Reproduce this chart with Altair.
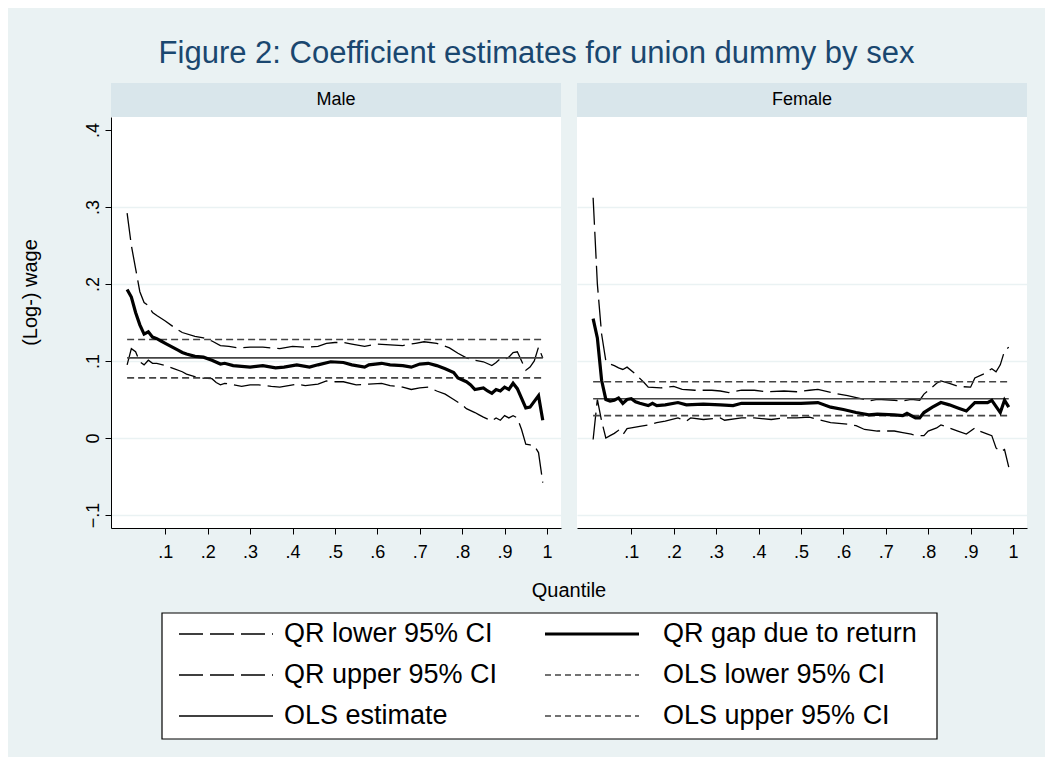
import altair as alt
import pandas as pd

# ---------------- data ----------------
TITLE = "Figure 2: Coefficient estimates for union dummy by sex"
PANELS = ["Male", "Female"]
X_TITLE = "Quantile"
Y_TITLE = "(Log-) wage"
SERIES = ["QR lower 95% CI", "QR upper 95% CI", "OLS estimate",
          "QR gap due to return", "OLS lower 95% CI", "OLS upper 95% CI"]
X_TICKS = [0.1, 0.2, 0.3, 0.4, 0.5, 0.6, 0.7, 0.8, 0.9, 1.0]
Y_TICKS = [-0.1, 0.0, 0.1, 0.2, 0.3, 0.4]

OLS_Q = [0.01, 0.99]
MALE_OLS = [0.078, 0.104, 0.128]      # lower, estimate, upper
FEMALE_OLS = [0.029, 0.051, 0.073]

MALE_EST_Q = [0.01, 0.02, 0.03, 0.04, 0.05, 0.06, 0.07, 0.08, 0.09, 0.10, 0.11, 0.12, 0.13, 0.14,
              0.15, 0.17, 0.19, 0.21, 0.23, 0.24, 0.26, 0.28, 0.30, 0.33, 0.36, 0.38, 0.41, 0.44,
              0.46, 0.49, 0.52, 0.54, 0.57, 0.58, 0.61, 0.63, 0.66, 0.68, 0.70, 0.72, 0.74, 0.76,
              0.78, 0.79, 0.81, 0.82, 0.83, 0.85, 0.86, 0.87, 0.88, 0.89, 0.90, 0.91, 0.92, 0.93,
              0.95, 0.96, 0.98, 0.99]
MALE_EST_V = [0.193, 0.183, 0.163, 0.147, 0.135, 0.138, 0.131, 0.129, 0.126, 0.123, 0.120, 0.117, 0.114, 0.111,
              0.109, 0.106, 0.105, 0.101, 0.096, 0.097, 0.094, 0.093, 0.092, 0.094, 0.091, 0.092, 0.095, 0.092,
              0.095, 0.099, 0.098, 0.095, 0.092, 0.095, 0.097, 0.095, 0.094, 0.092, 0.096, 0.097, 0.094, 0.090,
              0.085, 0.078, 0.073, 0.069, 0.063, 0.065, 0.061, 0.058, 0.063, 0.061, 0.066, 0.063, 0.071, 0.064,
              0.039, 0.040, 0.055, 0.023]

MALE_UP_Q = [0.01, 0.02, 0.03, 0.04, 0.05, 0.06, 0.07, 0.08, 0.10, 0.12, 0.14, 0.17, 0.19, 0.21,
             0.23, 0.25, 0.27, 0.30, 0.33, 0.37, 0.40, 0.43, 0.46, 0.48, 0.50, 0.52, 0.54, 0.57,
             0.60, 0.63, 0.66, 0.69, 0.71, 0.74, 0.77, 0.79, 0.81, 0.83, 0.85, 0.87, 0.88, 0.89,
             0.90, 0.91, 0.92, 0.93, 0.95, 0.96, 0.97, 0.98, 0.99]
MALE_UP_V = [0.292, 0.250, 0.220, 0.190, 0.176, 0.172, 0.163, 0.159, 0.152, 0.144, 0.137, 0.132, 0.130, 0.126,
             0.120, 0.119, 0.117, 0.118, 0.118, 0.116, 0.119, 0.118, 0.119, 0.123, 0.124, 0.124, 0.122, 0.119,
             0.122, 0.121, 0.120, 0.123, 0.125, 0.123, 0.117, 0.110, 0.104, 0.101, 0.099, 0.094, 0.098, 0.103,
             0.102, 0.105, 0.111, 0.112, 0.088, 0.092, 0.100, 0.118, 0.104]

MALE_LO_Q = [0.01, 0.02, 0.03, 0.04, 0.05, 0.06, 0.07, 0.08, 0.10, 0.12, 0.14, 0.15, 0.18, 0.21,
             0.22, 0.23, 0.24, 0.26, 0.28, 0.30, 0.32, 0.35, 0.37, 0.41, 0.43, 0.46, 0.48, 0.50,
             0.52, 0.55, 0.58, 0.61, 0.63, 0.66, 0.68, 0.70, 0.72, 0.74, 0.76, 0.78, 0.80, 0.81,
             0.83, 0.84, 0.85, 0.87, 0.88, 0.89, 0.90, 0.91, 0.92, 0.93, 0.94, 0.95, 0.96, 0.97,
             0.98, 0.99]
MALE_LO_V = [0.095, 0.116, 0.112, 0.099, 0.095, 0.101, 0.097, 0.097, 0.094, 0.090, 0.086, 0.083, 0.078, 0.077,
             0.072, 0.069, 0.071, 0.069, 0.067, 0.069, 0.069, 0.067, 0.066, 0.070, 0.068, 0.070, 0.074, 0.073,
             0.073, 0.069, 0.070, 0.071, 0.068, 0.066, 0.063, 0.065, 0.066, 0.061, 0.057, 0.050, 0.043, 0.038,
             0.033, 0.030, 0.027, 0.022, 0.026, 0.023, 0.029, 0.026, 0.029, 0.026, 0.011, -0.008, -0.009, -0.010,
             -0.019, -0.058]

FEMALE_EST_Q = [0.01, 0.02, 0.03, 0.04, 0.05, 0.06, 0.07, 0.08, 0.09, 0.10, 0.11, 0.12, 0.14, 0.15,
                0.16, 0.18, 0.21, 0.23, 0.27, 0.31, 0.34, 0.36, 0.40, 0.45, 0.50, 0.54, 0.57, 0.60,
                0.63, 0.66, 0.68, 0.72, 0.74, 0.75, 0.77, 0.78, 0.79, 0.81, 0.83, 0.85, 0.87, 0.89,
                0.91, 0.94, 0.95, 0.97, 0.98, 0.99]
FEMALE_EST_V = [0.155, 0.130, 0.075, 0.050, 0.048, 0.049, 0.052, 0.045, 0.050, 0.051, 0.047, 0.045, 0.042, 0.045,
                0.042, 0.043, 0.046, 0.043, 0.044, 0.043, 0.042, 0.045, 0.045, 0.045, 0.045, 0.046, 0.040, 0.037,
                0.033, 0.030, 0.031, 0.030, 0.029, 0.032, 0.026, 0.026, 0.033, 0.040, 0.046, 0.043, 0.039, 0.035,
                0.046, 0.046, 0.049, 0.033, 0.049, 0.040]

FEMALE_UP_Q = [0.01, 0.02, 0.03, 0.04, 0.05, 0.06, 0.07, 0.08, 0.09, 0.11, 0.13, 0.14, 0.17, 0.20,
               0.22, 0.25, 0.29, 0.31, 0.33, 0.36, 0.39, 0.42, 0.46, 0.49, 0.52, 0.54, 0.58, 0.61,
               0.65, 0.66, 0.68, 0.72, 0.74, 0.76, 0.78, 0.79, 0.82, 0.83, 0.85, 0.87, 0.90, 0.91,
               0.93, 0.95, 0.96, 0.97, 0.98, 0.99]
FEMALE_UP_V = [0.312, 0.200, 0.135, 0.100, 0.096, 0.094, 0.091, 0.089, 0.092, 0.083, 0.072, 0.066, 0.065, 0.067,
               0.063, 0.062, 0.062, 0.061, 0.059, 0.062, 0.062, 0.060, 0.061, 0.060, 0.062, 0.063, 0.058, 0.055,
               0.050, 0.048, 0.050, 0.049, 0.048, 0.050, 0.049, 0.057, 0.071, 0.074, 0.071, 0.067, 0.066, 0.078,
               0.083, 0.090, 0.086, 0.095, 0.113, 0.118]

FEMALE_LO_Q = [0.01, 0.02, 0.03, 0.04, 0.05, 0.06, 0.07, 0.08, 0.09, 0.10, 0.12, 0.14, 0.16, 0.18,
               0.21, 0.23, 0.24, 0.27, 0.31, 0.32, 0.36, 0.39, 0.43, 0.46, 0.49, 0.52, 0.54, 0.57,
               0.61, 0.63, 0.65, 0.68, 0.72, 0.74, 0.76, 0.77, 0.79, 0.80, 0.82, 0.83, 0.85, 0.87,
               0.89, 0.91, 0.92, 0.94, 0.95, 0.96, 0.97, 0.98, 0.99]
FEMALE_LO_V = [-0.002, 0.050, 0.022, 0.000, 0.003, 0.006, 0.010, 0.004, 0.012, 0.013, 0.015, 0.017, 0.020, 0.022,
               0.026, 0.022, 0.026, 0.024, 0.026, 0.023, 0.026, 0.026, 0.024, 0.026, 0.026, 0.027, 0.024, 0.020,
               0.018, 0.016, 0.011, 0.009, 0.009, 0.007, 0.005, 0.003, 0.003, 0.009, 0.013, 0.017, 0.013, 0.009,
               0.005, 0.013, 0.009, 0.005, 0.003, -0.013, -0.018, -0.015, -0.038]

# ---------------- styles ----------------
FONT = "Liberation Sans"
BG = "#EAF2F3"
STRIP = "#D9E6EB"
GRID = "#EAF2F3"
NAVY = "#1A476F"
OLS_COL = "#444444"
PW, PH = 450, 411
XDOM = [-0.028, 1.033]
YDOM = [-0.117, 0.417]
LABEL_EXPR = "replace(format(datum.value, '.1~f'), '0.', '.')"

rows = []


def add(panel, series, qs, vs):
    for q, v in zip(qs, vs):
        rows.append({"panel": panel, "series": series, "q": q, "v": v})


for panel, est_q, est_v, lo_q, lo_v, up_q, up_v, ols in [
    ("Male", MALE_EST_Q, MALE_EST_V, MALE_LO_Q, MALE_LO_V, MALE_UP_Q, MALE_UP_V, MALE_OLS),
    ("Female", FEMALE_EST_Q, FEMALE_EST_V, FEMALE_LO_Q, FEMALE_LO_V, FEMALE_UP_Q, FEMALE_UP_V, FEMALE_OLS),
]:
    add(panel, SERIES[0], lo_q, lo_v)
    add(panel, SERIES[1], up_q, up_v)
    add(panel, SERIES[2], OLS_Q, [ols[1]] * len(OLS_Q))
    add(panel, SERIES[3], est_q, est_v)
    add(panel, SERIES[4], OLS_Q, [ols[0]] * len(OLS_Q))
    add(panel, SERIES[5], OLS_Q, [ols[2]] * len(OLS_Q))

df = pd.DataFrame(rows)

grid_color = {"condition": {"test": "datum.value > 0.35", "value": "transparent"}, "value": GRID}


def make_panel(name, first):
    data = df[df["panel"] == name]
    xaxis = alt.Axis(values=X_TICKS, labelExpr=LABEL_EXPR, title=None, grid=False,
                     labelFontSize=18, labelFont=FONT, labelColor="#000", tickSize=6,
                     tickColor="#000", domainColor="#000", labelPadding=9, labelFlush=False)
    if first:
        yaxis = alt.Axis(values=Y_TICKS, labelExpr=LABEL_EXPR, title=Y_TITLE, grid=True,
                         gridColor=grid_color, gridWidth=1.5,
                         labelFontSize=18, labelFont=FONT, labelColor="#000", labelAngle=270,
                         labelAlign="center", labelBaseline="bottom", labelPadding=3,
                         tickSize=6, tickColor="#000", domainColor="#000",
                         titleFont=FONT, titleFontSize=20, titleFontWeight="normal",
                         titleColor="#000", titlePadding=44, titleY=175)
    else:
        yaxis = alt.Axis(values=Y_TICKS, labels=False, ticks=False, domain=False, title=None,
                         grid=True, gridColor=grid_color, gridWidth=1.5)
    xs = alt.Scale(domain=XDOM, nice=False, zero=False)
    ys = alt.Scale(domain=YDOM, nice=False, zero=False)
    base = alt.Chart(data)

    def lines(series_list, **mk):
        return base.transform_filter(
            alt.FieldOneOfPredicate(field="series", oneOf=series_list)
        ).mark_line(**mk).encode(
            x=alt.X("q:Q", scale=xs, axis=xaxis),
            y=alt.Y("v:Q", scale=ys, axis=yaxis),
            detail="series:N",
        )

    qr_ci = lines([SERIES[0], SERIES[1]], color="#000", strokeWidth=1.3, strokeDash=[27, 7])
    ols_ci = lines([SERIES[4], SERIES[5]], color=OLS_COL, strokeWidth=1.6, strokeDash=[7, 4])
    ols_est = lines([SERIES[2]], color=OLS_COL, strokeWidth=1.6)
    qr_est = lines([SERIES[3]], color="#000", strokeWidth=3.2)

    strip_df = pd.DataFrame({"label": [name]})
    strip_bg = alt.Chart(strip_df).mark_rect(color=STRIP).encode(
        x=alt.value(0), x2=alt.value(PW), y=alt.value(-34), y2=alt.value(0))
    strip_tx = alt.Chart(strip_df).mark_text(fontSize=18, font=FONT, color="#000",
                                             baseline="middle", align="center").encode(
        text="label:N", x=alt.value(PW / 2), y=alt.value(-17))

    return alt.layer(qr_ci, ols_ci, ols_est, qr_est, strip_bg, strip_tx).properties(
        width=PW, height=PH, view=alt.ViewBackground(fill="white", stroke=None))


panels = alt.hconcat(make_panel("Male", True), make_panel("Female", False), spacing=16)

# ---------------- legend (x measured from the left edge of the Male plot) ----------------
LW, LH = 916, 192
leg_df = pd.DataFrame({"name": SERIES})
leg_df["col"] = [i // 3 for i in range(len(SERIES))]
leg_df["row"] = [i % 3 for i in range(len(SERIES))]

one = pd.DataFrame({"t": [X_TITLE]})
box = alt.Chart(one).mark_rect(fill="white", stroke="#000", strokeWidth=1.2).encode(
    x=alt.value(51), x2=alt.value(826), y=alt.value(52), y2=alt.value(178))
qtitle = alt.Chart(one).mark_text(fontSize=20, font=FONT, color="#000", baseline="middle").encode(
    text="t:N", x=alt.value(458), y=alt.value(30))

legbase = alt.Chart(leg_df).transform_calculate(
    x0="68 + datum.col * 366", x1="162 + datum.col * 366",
    xl="173 + datum.col * 379", y="73 + datum.row * 41")


def leg_sym(names, **mk):
    return legbase.transform_filter(
        alt.FieldOneOfPredicate(field="name", oneOf=names)
    ).mark_rule(**mk).encode(
        x=alt.X("x0:Q", scale=None), x2="x1:Q", y=alt.Y("y:Q", scale=None))


sym_qr_ci = leg_sym([SERIES[0], SERIES[1]], color="#000", strokeWidth=1.3, strokeDash=[24, 7])
sym_ols_ci = leg_sym([SERIES[4], SERIES[5]], color=OLS_COL, strokeWidth=1.3, strokeDash=[6, 4])
sym_ols = leg_sym([SERIES[2]], color="#000", strokeWidth=1.3)
sym_qr = leg_sym([SERIES[3]], color="#000", strokeWidth=3.2)
leg_text = legbase.mark_text(fontSize=27, font=FONT, color="#000", align="left",
                             baseline="middle").encode(
    x=alt.X("xl:Q", scale=None), y=alt.Y("y:Q", scale=None), text="name:N")

legend = alt.layer(box, qtitle, sym_qr_ci, sym_ols_ci, sym_ols, sym_qr, leg_text).properties(
    width=LW, height=LH, view=alt.ViewBackground(fill=None, stroke=None))

chart = alt.vconcat(panels, legend, spacing=0).properties(
    title=alt.TitleParams(TITLE, fontSize=31, font=FONT, color=NAVY, fontWeight="normal",
                          anchor="middle", offset=13, dx=13),
    padding={"left": 12, "top": 30, "right": 18, "bottom": 4},
    background=BG,
).configure_view(stroke=None)

chart.save("out.html", embed_options={"renderer": "svg", "actions": False})
